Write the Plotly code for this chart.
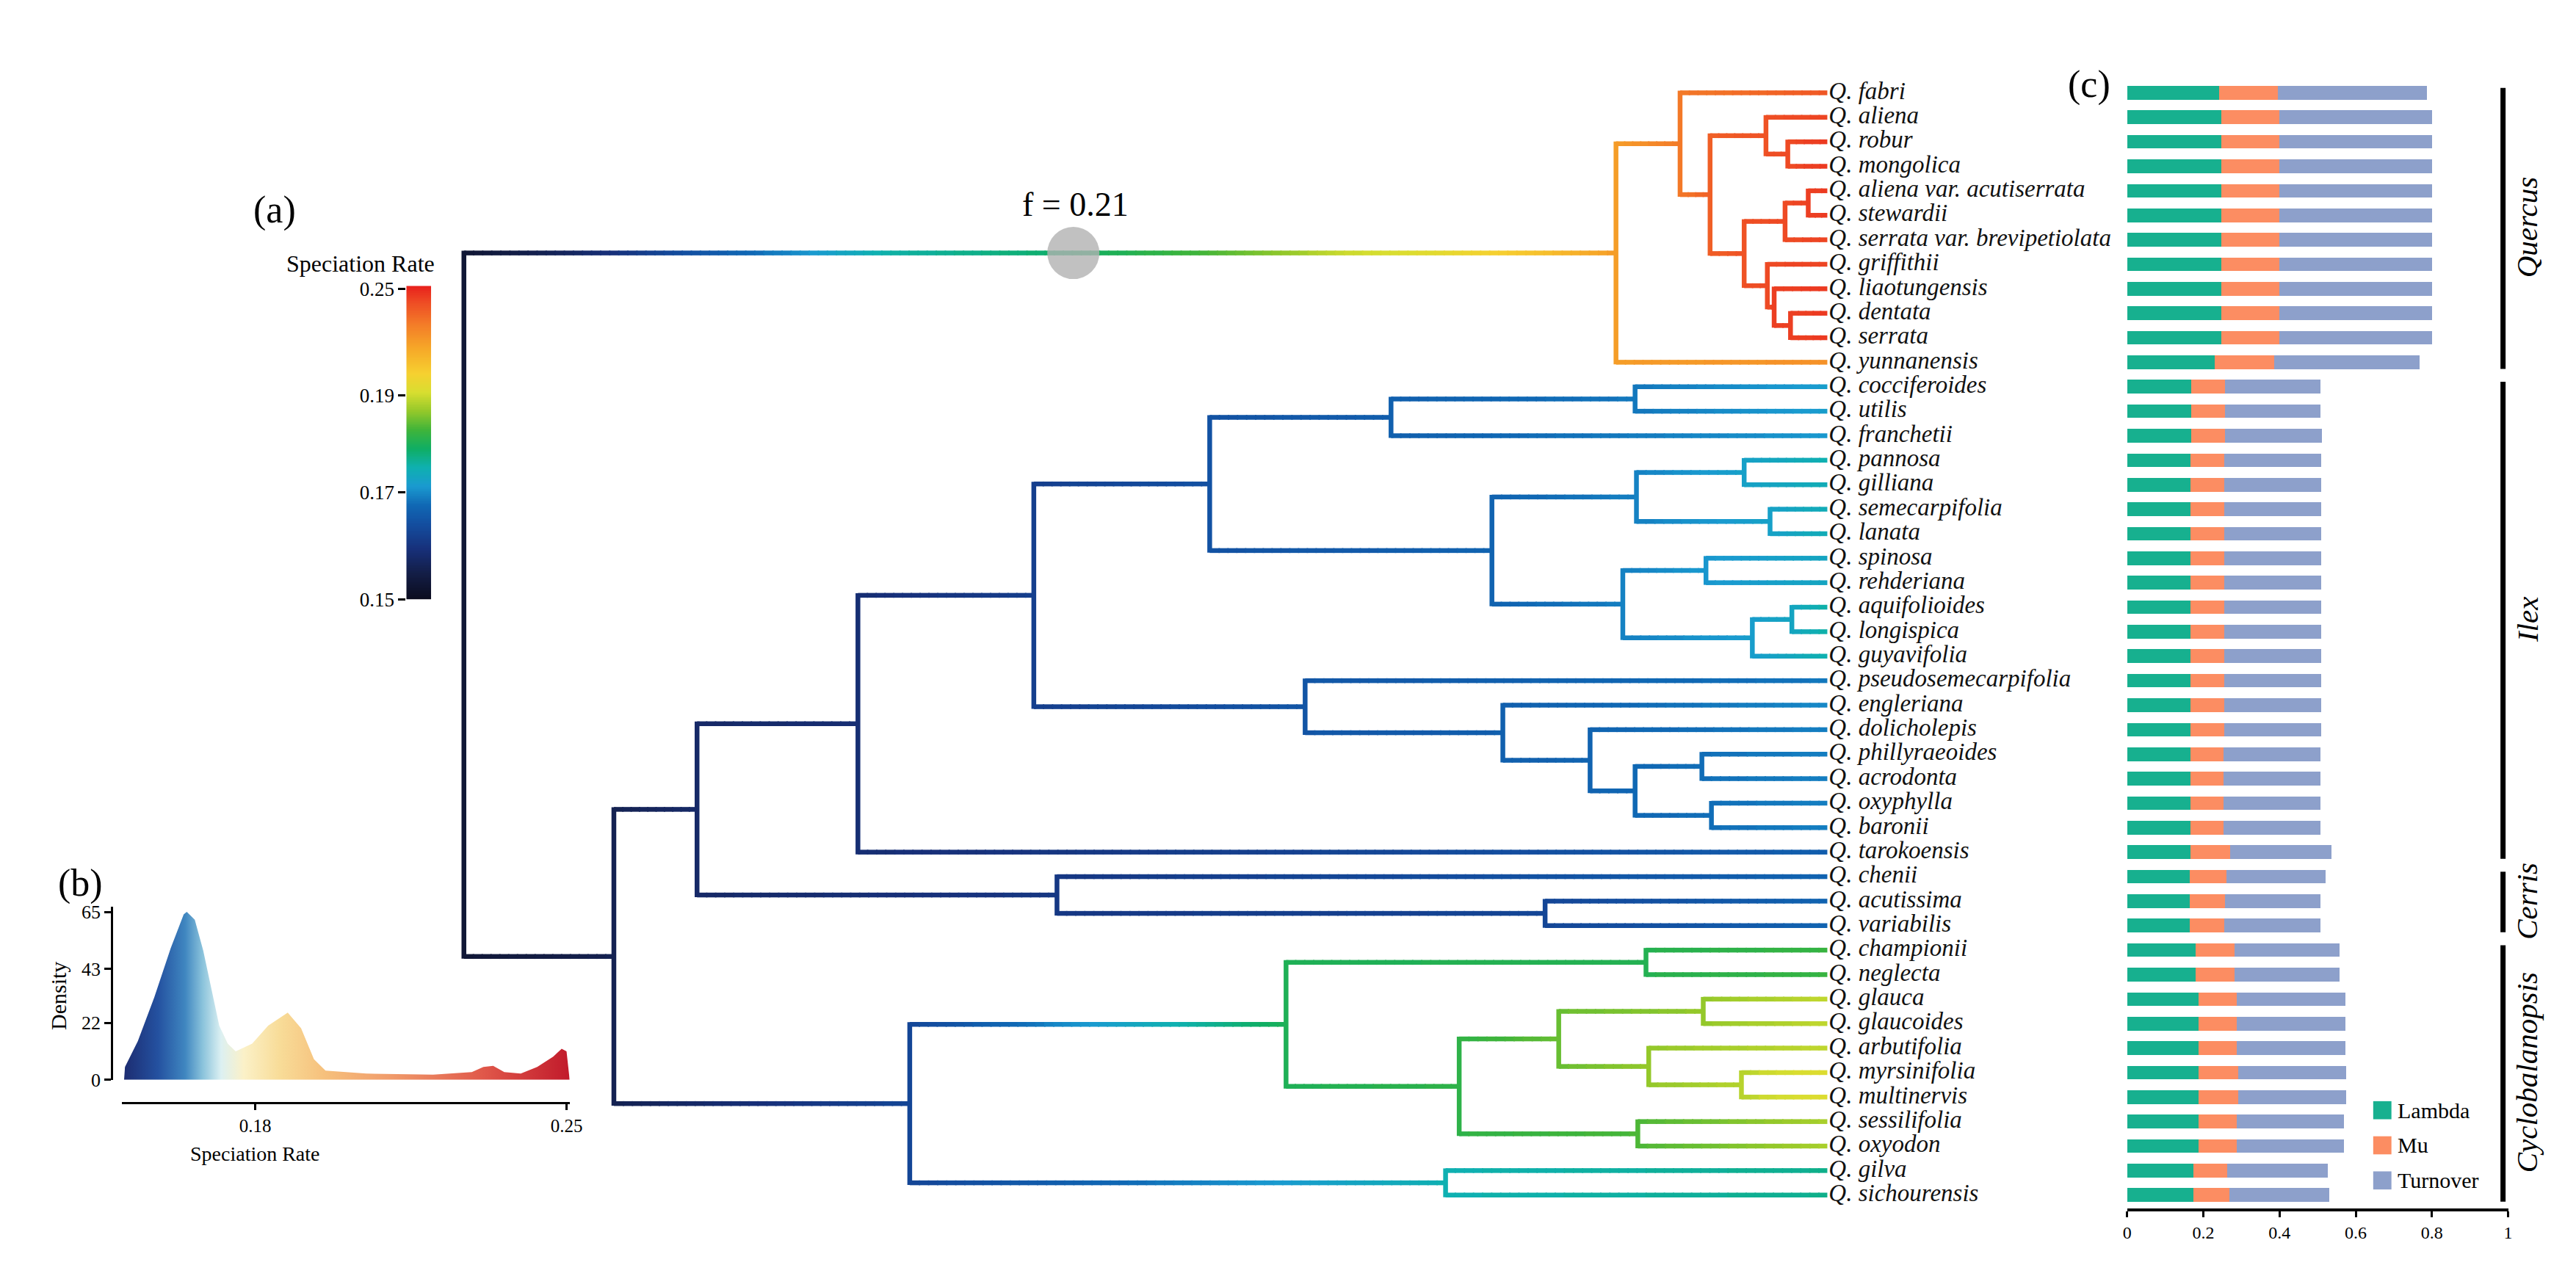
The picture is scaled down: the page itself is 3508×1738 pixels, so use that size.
import numpy as np
import plotly.graph_objects as go
from plotly.colors import sample_colorscale

W, H = 3508, 1738
FONT = "Liberation Serif"

# ---------------- data ----------------
TIP_LABELS = [
    "Q. fabri", "Q. aliena", "Q. robur", "Q. mongolica", "Q. aliena var. acutiserrata",
    "Q. stewardii", "Q. serrata var. brevipetiolata", "Q. griffithii", "Q. liaotungensis",
    "Q. dentata", "Q. serrata", "Q. yunnanensis", "Q. cocciferoides", "Q. utilis",
    "Q. franchetii", "Q. pannosa", "Q. gilliana", "Q. semecarpifolia", "Q. lanata",
    "Q. spinosa", "Q. rehderiana", "Q. aquifolioides", "Q. longispica", "Q. guyavifolia",
    "Q. pseudosemecarpifolia", "Q. engleriana", "Q. dolicholepis", "Q. phillyraeoides",
    "Q. acrodonta", "Q. oxyphylla", "Q. baronii", "Q. tarokoensis", "Q. chenii",
    "Q. acutissima", "Q. variabilis", "Q. championii", "Q. neglecta", "Q. glauca",
    "Q. glaucoides", "Q. arbutifolia", "Q. myrsinifolia", "Q. multinervis",
    "Q. sessilifolia", "Q. oxyodon", "Q. gilva", "Q. sichourensis",
]

TIP_RATE = [
    0.2380, 0.2431, 0.2448, 0.2448, 0.2448, 0.2448, 0.2431, 0.2431, 0.2448, 0.2448,
    0.2448, 0.2225, 0.1717, 0.1717, 0.1710, 0.1750, 0.1743, 0.1743, 0.1743, 0.1730,
    0.1730, 0.1756, 0.1756, 0.1750, 0.1686, 0.1698, 0.1692, 0.1692, 0.1692, 0.1692,
    0.1692, 0.1663, 0.1669, 0.1669, 0.1669, 0.1821, 0.1821, 0.1893, 0.1893, 0.1893,
    0.1933, 0.1933, 0.1880, 0.1880, 0.1769, 0.1769,
]

# tree topology (internal node -> children)
TREE_CHILDREN = {
    "R": ["Q0", "N1"],
    "Q0": ["Q1", "Q. yunnanensis"],
    "Q1": ["Q. fabri", "Q2"],
    "Q2": ["Q3", "Q4"],
    "Q3": ["Q. aliena", "Q5"],
    "Q5": ["Q. robur", "Q. mongolica"],
    "Q4": ["Q6", "Q7"],
    "Q6": ["Q8", "Q. serrata var. brevipetiolata"],
    "Q8": ["Q. aliena var. acutiserrata", "Q. stewardii"],
    "Q7": ["Q. griffithii", "Q9"],
    "Q9": ["Q. liaotungensis", "Q10"],
    "Q10": ["Q. dentata", "Q. serrata"],
    "N1": ["N2", "NCy"],
    "N2": ["N3", "NC"],
    "N3": ["N4", "Q. tarokoensis"],
    "N4": ["N5", "N6"],
    "N5": ["N7", "N8"],
    "N7": ["N9", "Q. franchetii"],
    "N9": ["Q. cocciferoides", "Q. utilis"],
    "N8": ["N10", "N11"],
    "N10": ["N12", "N13"],
    "N12": ["Q. pannosa", "Q. gilliana"],
    "N13": ["Q. semecarpifolia", "Q. lanata"],
    "N11": ["N14", "N15"],
    "N14": ["Q. spinosa", "Q. rehderiana"],
    "N15": ["N16", "Q. guyavifolia"],
    "N16": ["Q. aquifolioides", "Q. longispica"],
    "N6": ["Q. pseudosemecarpifolia", "N17"],
    "N17": ["Q. engleriana", "N18"],
    "N18": ["Q. dolicholepis", "N19"],
    "N19": ["N20", "N21"],
    "N20": ["Q. phillyraeoides", "Q. acrodonta"],
    "N21": ["Q. oxyphylla", "Q. baronii"],
    "NC": ["Q. chenii", "N22"],
    "N22": ["Q. acutissima", "Q. variabilis"],
    "NCy": ["N23", "N24"],
    "N23": ["N25", "N26"],
    "N25": ["Q. championii", "Q. neglecta"],
    "N26": ["N27", "N28"],
    "N27": ["N29", "N30"],
    "N29": ["Q. glauca", "Q. glaucoides"],
    "N30": ["Q. arbutifolia", "N31"],
    "N31": ["Q. myrsinifolia", "Q. multinervis"],
    "N28": ["Q. sessilifolia", "Q. oxyodon"],
    "N24": ["Q. gilva", "Q. sichourensis"],
}

# relative node depth (root = 0, tips = 100)
NODE_DEPTH = {
    "R": 0.0, "N1": 11.0, "N2": 17.1, "N3": 28.9, "N4": 41.8, "N5": 54.7, "N7": 68.0,
    "N6": 61.7, "NC": 43.5, "NCy": 32.7, "N23": 60.3, "N9": 85.9, "N8": 75.4,
    "N10": 86.0, "N12": 93.9, "N13": 95.8, "N11": 85.0, "N14": 91.1, "N15": 94.5,
    "N16": 97.4, "N17": 76.2, "N18": 82.6, "N19": 85.9, "N20": 90.8, "N21": 91.5,
    "N22": 79.3, "N25": 86.7, "N26": 73.0, "N27": 80.3, "N29": 90.9, "N30": 86.9,
    "N31": 93.7, "N28": 86.1, "N24": 72.0, "Q0": 84.5, "Q1": 89.2, "Q2": 91.4,
    "Q3": 95.5, "Q5": 97.1, "Q4": 93.9, "Q6": 96.9, "Q8": 98.6, "Q7": 95.6,
    "Q9": 96.1, "Q10": 97.3,
}
TIP_DEPTH = 100.0

NODE_RATE = {
    "R": 0.1529, "N1": 0.1558, "N2": 0.1576, "N3": 0.1587, "N4": 0.1616, "N5": 0.1645,
    "N7": 0.1663, "N9": 0.1686, "N8": 0.1669, "N10": 0.1692, "N12": 0.1723,
    "N13": 0.1723, "N11": 0.1692, "N14": 0.1710, "N15": 0.1717, "N16": 0.1730,
    "N6": 0.1651, "N17": 0.1663, "N18": 0.1669, "N19": 0.1674, "N20": 0.1680,
    "N21": 0.1680, "NC": 0.1605, "N22": 0.1628, "NCy": 0.1628, "N23": 0.1802,
    "N25": 0.1808, "N26": 0.1815, "N27": 0.1847, "N29": 0.1867, "N30": 0.1867,
    "N31": 0.1886, "N28": 0.1834, "N24": 0.1750, "Q0": 0.2191, "Q1": 0.2294,
    "Q2": 0.2362, "Q3": 0.2397, "Q5": 0.2414, "Q4": 0.2397, "Q6": 0.2414,
    "Q8": 0.2431, "Q7": 0.2414, "Q9": 0.2431, "Q10": 0.2431,
}

# rate read along the long stem leading to the Quercus clade (root -> Q0)
STEM_DEPTH = [0.0, 8.0, 16.0, 24.0, 31.0, 45.0, 55.0, 62.0, 70.0, 78.0, 84.5]
STEM_RATE = [0.1529, 0.1570, 0.1640, 0.1698, 0.1756, 0.1789, 0.1834, 0.1880, 0.1933,
             0.2053, 0.2191]

SHIFT_DEPTH = 44.7
SHIFT_LABEL = "f = 0.21"

# colour bar
CB_TICK_RATES = [0.15, 0.17, 0.19, 0.25]
CB_TICK_POS = [0.0, 0.342, 0.651, 0.99]
CB_TICK_TEXT = ["0.15", "0.17", "0.19", "0.25"]
RATE_COLORSCALE = [
    [0.00, "#0b0c1e"], [0.08, "#131d45"], [0.16, "#17307a"], [0.24, "#134ea0"],
    [0.30, "#1068b4"], [0.36, "#1a9ad0"], [0.42, "#0fb0b0"], [0.48, "#0fae64"],
    [0.54, "#3fb43a"], [0.60, "#94c82a"], [0.66, "#d8de30"], [0.72, "#f6d030"],
    [0.80, "#f6a828"], [0.88, "#f37a28"], [0.95, "#ee4a24"], [1.00, "#e8201c"],
]

# density of speciation rates (panel b)
DENS_RATE = [0.1505, 0.1507, 0.1536, 0.1573, 0.1610, 0.1639, 0.1646, 0.1664, 0.1683,
             0.1701, 0.1719, 0.1738, 0.1756, 0.1793, 0.1829, 0.1873, 0.1903, 0.1932,
             0.1958, 0.2050, 0.2200, 0.2287, 0.2313, 0.2335, 0.2360, 0.2397, 0.2434,
             0.2470, 0.2489, 0.2500, 0.2507]
DENS_VALUE = [0, 5, 15, 32, 51, 64, 65, 62, 50, 35, 21, 14, 11, 14, 21, 26, 20, 8, 3.6,
              2.4, 2, 3, 5, 5.4, 3, 2.4, 5, 9, 12, 11, 0]
DENS_YTICKS = [0, 22, 43, 65]
DENS_XTICKS = [0.18, 0.25]
DENS_COLORSCALE = [
    [0.00, "#1c2a6e"], [0.08, "#2451a0"], [0.14, "#3f86c0"], [0.18, "#8cc4dc"],
    [0.22, "#dcf0f2"], [0.27, "#fbf1c8"], [0.35, "#f8dc98"], [0.45, "#f6c07c"],
    [0.60, "#f09a6a"], [0.80, "#e0584a"], [1.00, "#c0182a"],
]

# panel c: stacked rates
LAMBDA = [0.240] + [0.247] * 10 + [0.229] + [0.167] * 3 + [0.166] * 17 + \
         [0.164] * 3 + [0.179] * 2 + [0.187] * 7 + [0.173] * 2
MU = [0.155] + [0.152] * 10 + [0.157] + [0.089] * 15 + [0.087] * 4 + [0.104] + \
     [0.097, 0.092, 0.091] + [0.102] * 2 + [0.100] * 3 + [0.104] * 2 + [0.100] * 2 + \
     [0.089, 0.095]
TURNOVER = [0.392] + [0.400] * 10 + [0.381] + [0.250] * 2 + [0.254] * 13 + [0.253] * 4 + \
           [0.266] + [0.259, 0.250, 0.251] + [0.276] * 2 + [0.285] * 3 + [0.283] * 2 + \
           [0.281] * 2 + [0.264, 0.261]
BAR_SERIES = ["Lambda", "Mu", "Turnover"]
BAR_COLORS = ["#17b08f", "#fc8d62", "#8da0cb"]
BAR_XTICKS = [0, 0.2, 0.4, 0.6, 0.8, 1]
BAR_XTICKTEXT = ["0", "0.2", "0.4", "0.6", "0.8", "1"]

CLADE_NAMES = ["Quercus", "Ilex", "Cerris", "Cyclobalanopsis"]
CLADE_FIRST = [1, 13, 33, 36]
CLADE_LAST = [12, 32, 35, 46]

# ---------------- layout geometry (pixels) ----------------
ROOT_PX, TIP_PX = 622, 2491.5
ROW0_PX, ROW_STEP = 110, 33.85
XSCALE = (TIP_PX - ROOT_PX) / 100.0
DENS_ZERO_PX, DENS_PX_PER_UNIT = 1474, 3.57


def pxx(x):
    return x / W


def pxy(y):
    return 1 - y / H


tree_xrange = [-ROOT_PX / XSCALE, (W - ROOT_PX) / XSCALE]
tree_yrange = [1 + (H - ROW0_PX) / ROW_STEP, 1 - ROW0_PX / ROW_STEP]


def rate_to_pos(r):
    return float(np.interp(r, CB_TICK_RATES, [0.0, 0.342, 0.651, 1.0]))


# node coordinates
rate = dict(NODE_RATE)
depth = dict(NODE_DEPTH)
ypos = {}
for i, t in enumerate(TIP_LABELS):
    ypos[t] = i + 1
    rate[t] = TIP_RATE[i]
    depth[t] = TIP_DEPTH


def get_y(n):
    if n in ypos:
        return ypos[n]
    ys = [get_y(c) for c in TREE_CHILDREN[n]]
    ypos[n] = sum(ys) / len(ys)
    return ypos[n]


get_y("R")

NB = 160
bins = {}


def add_seg(x0, x1, y0, y1, pos):
    b = int(round(pos * NB))
    xs, ys = bins.setdefault(b, ([], []))
    xs.extend([x0, x1, None])
    ys.extend([y0, y1, None])


EXT = 3.0 / ROW_STEP
for node, kids in TREE_CHILDREN.items():
    px0 = depth[node]
    p0 = rate_to_pos(rate[node])
    kys = [ypos[k] for k in kids]
    add_seg(px0, px0, min(kys) - EXT, max(kys) + EXT, p0)
    for k in kids:
        px1 = depth[k]
        if node == "R" and k == "Q0":
            prof_d, prof_r = STEM_DEPTH, STEM_RATE
        else:
            prof_d, prof_r = [px0, px1], [rate[node], rate[k]]
        n = max(2, int(np.ceil((px1 - px0) * 1.5)))
        xs = np.linspace(px0, px1, n + 1)
        for i in range(n):
            xm = 0.5 * (xs[i] + xs[i + 1])
            r = float(np.interp(xm, prof_d, prof_r))
            x1 = min(xs[i + 1] + 0.1, px1)
            add_seg(xs[i], x1, ypos[k], ypos[k], rate_to_pos(r))

fig = go.Figure()

for b in sorted(bins):
    col = sample_colorscale(RATE_COLORSCALE, [min(1, max(0, b / NB))])[0]
    xs, ys = bins[b]
    fig.add_trace(go.Scatter(x=xs, y=ys, mode="lines", line=dict(color=col, width=6.5),
                             hoverinfo="skip", showlegend=False, xaxis="x", yaxis="y"))

# rate shift marker
fig.add_trace(go.Scatter(x=[SHIFT_DEPTH], y=[ypos["Q0"]], mode="markers",
                         marker=dict(size=71, color="rgba(178,178,178,0.8)", line=dict(width=0)),
                         showlegend=False, hoverinfo="skip", xaxis="x", yaxis="y"))

# tip labels
fig.add_trace(go.Scatter(x=[TIP_DEPTH + 0.1] * len(TIP_LABELS), y=[ypos[t] for t in TIP_LABELS],
                         mode="text", text=[f"<i>{t}</i>" for t in TIP_LABELS],
                         textposition="middle right",
                         textfont=dict(family=FONT, size=33, color="#111111"),
                         showlegend=False, hoverinfo="skip", xaxis="x", yaxis="y"))

# panel c bars
for name, vals, col in zip(BAR_SERIES, [LAMBDA, MU, TURNOVER], BAR_COLORS):
    fig.add_trace(go.Bar(y=list(range(1, len(TIP_LABELS) + 1)), x=vals, orientation="h",
                         name=name, marker=dict(color=col, line=dict(width=0)), width=0.56,
                         showlegend=False, xaxis="x2", yaxis="y2"))

# panel b density
fig.add_trace(go.Scatter(x=DENS_RATE, y=DENS_VALUE, mode="lines", fill="tozeroy",
                         line=dict(width=0, color="rgba(0,0,0,0)"),
                         fillgradient=dict(type="horizontal", colorscale=DENS_COLORSCALE,
                                           start=0.15, stop=0.2507),
                         showlegend=False, hoverinfo="skip", xaxis="x3", yaxis="y3"))

# colour bar as a heatmap strip
cb_pos = np.linspace(0, 1, 301)
fig.add_trace(go.Heatmap(z=[[v] for v in cb_pos], x=[0], y=cb_pos, colorscale=RATE_COLORSCALE,
                         zmin=0, zmax=1, showscale=False, hoverinfo="skip",
                         xaxis="x4", yaxis="y4"))

shapes = []
annotations = []


def note(x, y, text, size, angle=0, xa="center", ya="middle", italic=False):
    return dict(xref="paper", yref="paper", x=pxx(x), y=pxy(y),
                text=f"<i>{text}</i>" if italic else text, textangle=angle,
                showarrow=False, xanchor=xa, yanchor=ya,
                font=dict(family=FONT, size=size, color="black"))


# clade bars
for name, a, b in zip(CLADE_NAMES, CLADE_FIRST, CLADE_LAST):
    shapes.append(dict(type="line", xref="paper", yref="y", x0=pxx(3418), x1=pxx(3418),
                       y0=a - 0.2, y1=b + 0.27, line=dict(color="black", width=7)))
    yc = ROW0_PX + ((a + b) / 2 - 1) * ROW_STEP
    annotations.append(note(3451, yc, name, 41, angle=-90, italic=True))

# bar legend
for i, (name, col) in enumerate(zip(BAR_SERIES, BAR_COLORS)):
    yc = 1516 + i * 48.5
    shapes.append(dict(type="rect", xref="paper", yref="paper", x0=pxx(3240), x1=pxx(3265),
                       y0=pxy(yc + 12.5), y1=pxy(yc - 12.5), fillcolor=col, line=dict(width=0)))
    annotations.append(note(3271, yc, name, 30, xa="left"))

dens_top = DENS_ZERO_PX - 67 * DENS_PX_PER_UNIT
annotations += [
    note(362, 272, "(a)", 52),
    note(96, DENS_ZERO_PX - 65 * DENS_PX_PER_UNIT - 40, "(b)", 52),
    note(2851, 98, "(c)", 52),
    note(1460, 264, SHIFT_LABEL, 46),
    note(480, 346, "Speciation Rate", 32),
    note(66, DENS_ZERO_PX - 32.5 * DENS_PX_PER_UNIT, "Density", 30, angle=-90),
    note(336, DENS_ZERO_PX + 102, "Speciation Rate", 28),
]

hidden = dict(visible=False, showgrid=False, zeroline=False)

fig.update_layout(
    width=W, height=H, margin=dict(l=0, r=0, t=0, b=0),
    paper_bgcolor="white", plot_bgcolor="rgba(0,0,0,0)",
    barmode="stack", bargap=0, showlegend=False,
    font=dict(family=FONT, color="black"),
    xaxis=dict(domain=[0, 1], range=tree_xrange, **hidden),
    yaxis=dict(domain=[0, 1], range=tree_yrange, **hidden),
    xaxis2=dict(domain=[pxx(2902.5), pxx(3425)], range=[0, 1], anchor="y2",
                showline=True, linecolor="black", linewidth=4, ticks="outside",
                ticklen=8, tickwidth=2.5, tickcolor="black",
                tickvals=BAR_XTICKS, ticktext=BAR_XTICKTEXT,
                tickfont=dict(family=FONT, size=24), showgrid=False, zeroline=False),
    yaxis2=dict(domain=[pxy(1652), 1], range=[1 + (1652 - ROW0_PX) / ROW_STEP,
                                              1 - ROW0_PX / ROW_STEP],
                anchor="x2", **hidden),
    xaxis3=dict(domain=[pxx(153), pxx(767)], range=[0.15, 0.2507], anchor="free",
                position=pxy(DENS_ZERO_PX + 32), showline=True, linecolor="black",
                linewidth=2.5, ticks="outside", ticklen=8, tickwidth=2.5, tickcolor="black",
                tickvals=DENS_XTICKS, ticktext=["0.18", "0.25"],
                tickfont=dict(family=FONT, size=25), showgrid=False, zeroline=False),
    yaxis3=dict(domain=[pxy(DENS_ZERO_PX), pxy(dens_top)], range=[0, 67], anchor="free",
                position=pxx(139), showline=True, linecolor="black", linewidth=2.5,
                ticks="outside", ticklen=9, tickwidth=2.5, tickcolor="black",
                tickvals=DENS_YTICKS, tickfont=dict(family=FONT, size=26),
                showgrid=False, zeroline=False),
    xaxis4=dict(domain=[pxx(543), pxx(577)], anchor="y4", **hidden),
    yaxis4=dict(domain=[pxy(810), pxy(377)], range=[0, 1], anchor="x4", side="left",
                showline=False, ticks="outside", ticklen=10, tickwidth=3, tickcolor="black",
                tickvals=CB_TICK_POS, ticktext=CB_TICK_TEXT,
                tickfont=dict(family=FONT, size=27), showgrid=False, zeroline=False),
    shapes=shapes, annotations=annotations,
)

fig.write_html("out.html")
